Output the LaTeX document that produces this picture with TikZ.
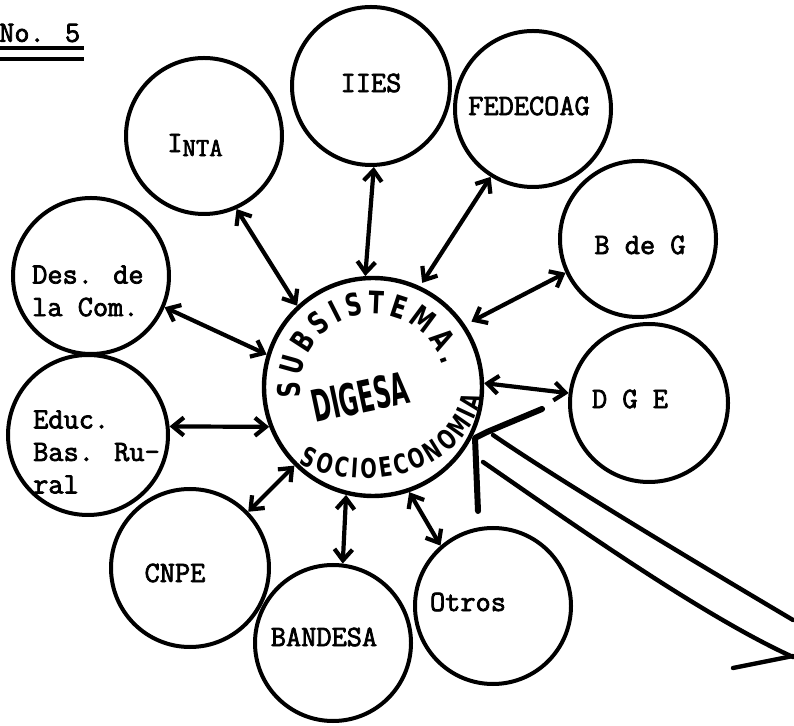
\documentclass[tikz,border=0pt]{standalone}
\usepackage{fontspec}
\newfontfamily\handfont[FakeStretch=0.72]{DejaVu Sans}
\newfontfamily\twfont[FakeBold=2.5]{Latin Modern Mono}
\usetikzlibrary{arrows.meta,decorations.text,calc}
\begin{document}
\begin{tikzpicture}[x=1pt,y=1pt,
  circ/.style={circle,draw,line width=4pt,inner sep=0pt,minimum size=156pt},
  lbl/.style={font=\twfont\fontsize{29.5}{32.5}\selectfont, inner sep=0pt},
  link/.style={line width=4.2pt, {Straight Barb[length=11pt,width=18pt]}-{Straight Barb[length=11pt,width=18pt]}, line cap=round, line join=round},
  big/.style={line width=4.4pt, line cap=round, line join=round},
  hand/.style={font=\handfont\bfseries}]
\useasboundingbox (0,0) rectangle (794,725);

% central circle
\node[circ, minimum size=218pt, line width=4.4pt] (c) at (373,338) {};

% outer circles
\node[circ, minimum size=158pt] (iies) at (371,639) {};
\node[circ] (inta) at (204,589) {};
\node[circ] (fed) at (533,616) {};
\node[circ] (bdg) at (638,486) {};
\node[circ, minimum size=158pt] (dge) at (649,322) {};
\node[circ] (des) at (91,449) {};
\node[circ, minimum size=160pt] (educ) at (88,290) {};
\node[circ, minimum size=158pt] (cnpe) at (190,157) {};
\node[circ] (band) at (333,82) {};
\node[circ] (otros) at (493,119) {};

% connectors
\draw[link] (c.94) -- (iies.-88);
\draw[link] (c.133) -- (inta.-66);
\draw[link, shorten <=4pt] (c.65) -- (fed.238);
\draw[link, shorten <=7pt] (c.34) -- (bdg.205);
\draw[link] (c.2) -- (dge.173);
\draw[link] (c.163) -- (des.-23);
\draw[link] (c.201) -- (educ.6);
\draw[link] (c.225) -- (cnpe.44);
\draw[link] (c.256) -- (band.83);
\draw[link] (c.289) -- (otros.131);

% labels
\node[lbl] (tiies) at (371,642) {IIES};
\node[lbl] (tinta) at (195,580) {I{\fontsize{26}{26}\selectfont\raisebox{-4pt}{NTA}}};
\node[lbl] (tfed) at (529,619) {FEDECOAG};
\node[lbl] (tbdg) at (640,480) {B de G};
\node[lbl] (tdge) at (630,326) {D G E};
\node[lbl, anchor=west, align=left] (tdes) at (32,434) {Des. de\\la Com.};
\node[lbl, anchor=west, align=left] (teduc) at (33,273) {Educ.\\Bas. Ru-\\ral};
\node[lbl] (tcnpe) at (175,152) {CNPE};
\node[lbl] (tband) at (324,88) {BANDESA};
\node[lbl] (totros) at (468,123) {Otros};

% title
\node[lbl, anchor=west] (title) at (-1,692) {No. 5};
\draw[line width=3.8pt] (0,677) -- (84,677);
\draw[line width=3.8pt] (0,666) -- (84,666);

% central handwritten text
\path[decorate, decoration={text along path, text align=fit to path,
  text={|\handfont\bfseries\fontsize{31}{31}\selectfont|SUBSISTEMA.}}]
  ([shift={(188:73)}]c.center) arc[start angle=188, end angle=17, radius=73];
\path[decorate, decoration={text along path, text align=fit to path,
  text={|\handfont\bfseries\fontsize{27}{27}\selectfont|SOCIOECONOMIA}}]
  (299,262) .. controls (360,230) and (464,247) .. (482,328);
\node[hand, font=\handfont\bfseries\fontsize{44}{44}\selectfont, rotate=12, xscale=0.74, inner sep=0pt] (dig) at (360,328) {DIGESA};

% big hollow arrow
\draw[big] (493,290) .. controls (560,244) and (700,160) .. (793,105);
\draw[big] (483,263) .. controls (560,210) and (700,110) .. (793,68);
\draw[big] (733,57) -- (793,69);
\draw[line width=6pt, line cap=round, line join=round] (478,214) -- (475,287) -- (487,293) -- (542,316);
\end{tikzpicture}
\end{document}
